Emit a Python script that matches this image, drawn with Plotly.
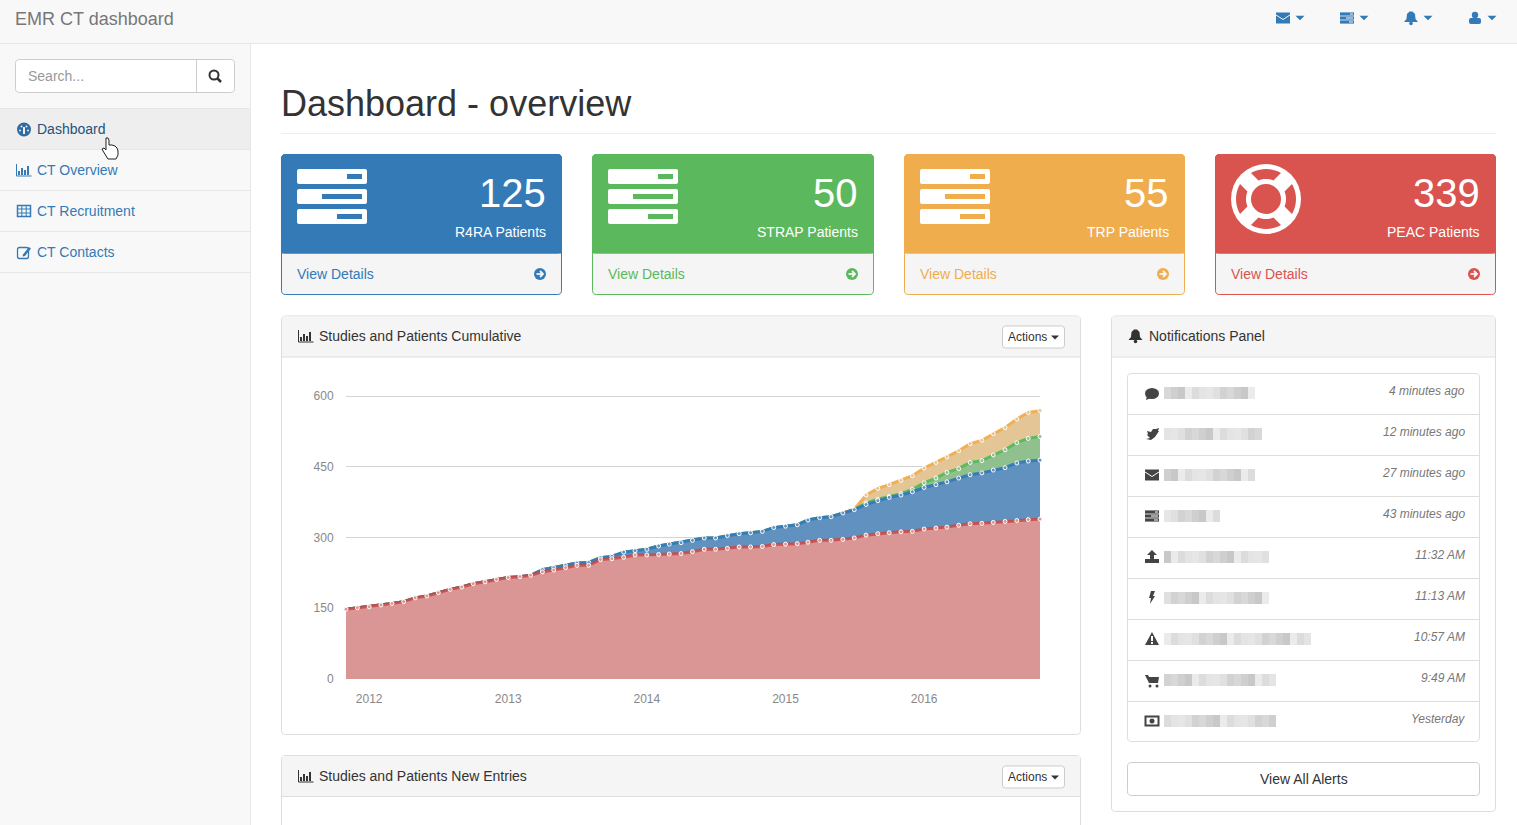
import math
import pandas as pd
import plotly.graph_objects as go

W, H = 1517, 825

months = pd.date_range("2011-11-01", periods=61, freq="MS").strftime("%Y-%m-%d").tolist()
year_ticks = ["2012-01-01", "2013-01-01", "2014-01-01", "2015-01-01", "2016-01-01"]
year_labels = ["2012", "2013", "2014", "2015", "2016"]
y_ticks = [0, 150, 300, 450, 600]

# cumulative series, stacked from the bottom up
peac = [148, 151, 153, 157, 160, 164, 172, 176, 183, 190, 195, 202, 206, 211, 215, 217, 220, 227, 231, 236,
        241, 241, 253, 255, 258, 263, 263, 264, 265, 266, 270, 275, 275, 277, 280, 280, 281, 285, 286, 287,
        290, 294, 294, 296, 299, 305, 308, 310, 312, 313, 318, 320, 322, 326, 329, 330, 332, 334, 336, 338, 339]
r4ra = [148, 151, 153, 157, 160, 164, 172, 176, 183, 190, 195, 202, 206, 211, 215, 217, 220, 232, 236, 241,
        246, 247, 257, 260, 269, 272, 275, 282, 286, 289, 294, 299, 299, 304, 308, 310, 313, 321, 324, 327,
        337, 342, 344, 352, 359, 370, 378, 385, 390, 397, 406, 412, 418, 426, 433, 437, 443, 448, 458, 462, 464]
strap = [148, 151, 153, 157, 160, 164, 172, 176, 183, 190, 195, 202, 206, 211, 215, 217, 220, 232, 236, 241,
         246, 247, 257, 260, 269, 272, 275, 282, 286, 289, 294, 299, 299, 304, 308, 310, 313, 321, 324, 327,
         337, 342, 344, 352, 359, 373, 381, 387, 393, 402, 416, 426, 438, 446, 459, 463, 475, 486, 501, 510, 514]
trp = [148, 151, 153, 157, 160, 164, 172, 176, 183, 190, 195, 202, 206, 211, 215, 217, 220, 232, 236, 241,
       246, 247, 257, 260, 269, 272, 275, 282, 286, 289, 294, 299, 299, 304, 308, 310, 313, 321, 324, 327,
       337, 342, 344, 352, 360, 390, 404, 412, 421, 431, 447, 459, 471, 484, 499, 506, 520, 533, 551, 565, 569]

card_numbers = ["125", "50", "55", "339"]
card_labels = ["R4RA Patients", "STRAP Patients", "TRP Patients", "PEAC Patients"]
nav_items = ["Dashboard", "CT Overview", "CT Recruitment", "CT Contacts"]
alert_times = ["4 minutes ago", "12 minutes ago", "27 minutes ago", "43 minutes ago", "11:32 AM",
               "11:13 AM", "10:57 AM", "9:49 AM", "Yesterday"]

FONT = "Liberation Sans, Arial, sans-serif"
BLUE, GREEN, ORANGE, RED = "#337ab7", "#5cb85c", "#f0ad4e", "#d9534f"
CLEAR = "rgba(0,0,0,0)"

shapes = []
annotations = []


def fx(x):
    return x / W


def fy(y):
    return 1 - y / H


def rect(x0, y0, x1, y1, fill, line=None, r=0, lw=1):
    if r == 0:
        p = [("M", x0, y0), ("L", x1, y0), ("L", x1, y1), ("L", x0, y1)]
        d = " ".join(f"{c} {fx(x):.5f},{fy(y):.5f}" for c, x, y in p) + " Z"
    else:
        def q(cx, cy, x, y):
            return f"Q {fx(cx):.5f},{fy(cy):.5f} {fx(x):.5f},{fy(y):.5f}"
        def l(x, y):
            return f"L {fx(x):.5f},{fy(y):.5f}"
        d = " ".join([f"M {fx(x0 + r):.5f},{fy(y0):.5f}", l(x1 - r, y0), q(x1, y0, x1, y0 + r), l(x1, y1 - r),
                      q(x1, y1, x1 - r, y1), l(x0 + r, y1), q(x0, y1, x0, y1 - r), l(x0, y0 + r),
                      q(x0, y0, x0 + r, y0), "Z"])
    shapes.append(dict(type="path", xref="paper", yref="paper", path=d, fillcolor=fill, layer="below",
                       line=dict(color=line or CLEAR, width=lw if line else 0)))


def poly(points, fill, line=None, lw=1, closed=True):
    d = " ".join(("M" if i == 0 else "L") + f" {fx(x):.5f},{fy(y):.5f}" for i, (x, y) in enumerate(points))
    if closed:
        d += " Z"
    shapes.append(dict(type="path", xref="paper", yref="paper", path=d, fillcolor=fill if closed else CLEAR,
                       layer="below", line=dict(color=line or CLEAR, width=lw if line else 0)))


def circle(cx, cy, r, fill, line=None, lw=1, ry=None):
    ry = ry or r
    shapes.append(dict(type="circle", xref="paper", yref="paper", x0=fx(cx - r), x1=fx(cx + r),
                       y0=fy(cy + ry), y1=fy(cy - ry), fillcolor=fill, layer="below",
                       line=dict(color=line or CLEAR, width=lw if line else 0)))


def hline(x0, x1, y, color):
    shapes.append(dict(type="line", xref="paper", yref="paper", x0=fx(x0), x1=fx(x1), y0=fy(y), y1=fy(y),
                       layer="below", line=dict(color=color, width=1)))


def vline(x, y0, y1, color):
    shapes.append(dict(type="line", xref="paper", yref="paper", x0=fx(x), x1=fx(x), y0=fy(y0), y1=fy(y1),
                       layer="below", line=dict(color=color, width=1)))


def text(x, y, s, size=14, color="#333333", anchor="left", style="normal"):
    # annotation boxes keep about a pixel of padding at the anchored side
    nudge = {"left": -1, "right": 1, "center": 0}[anchor]
    annotations.append(dict(x=fx(x + nudge), y=fy(y), xref="paper", yref="paper", text=s, showarrow=False,
                            xanchor=anchor, yanchor="middle", borderpad=0,
                            font=dict(family=FONT, size=size, color=color, style=style)))


def caret(x, y, color, w=4.5, h=4.5):
    poly([(x - w, y - h / 2), (x + w, y - h / 2), (x, y + h / 2)], color)


def envelope(cx, cy, color, bg):
    rect(cx - 7, cy - 5.5, cx + 7, cy + 5.5, color)
    poly([(cx - 7, cy - 3), (cx, cy + 1.5), (cx + 7, cy - 3)], bg, closed=False, line=bg)


def server(cx, cy, color, bg):
    for dy, sx in ((-4, 3), (0, -1), (4, 2)):
        rect(cx - 7, cy + dy - 1.6, cx + 7, cy + dy + 1.6, color)
        rect(cx + sx, cy + dy - 0.5, cx + 6, cy + dy + 0.5, bg)


def bell(cx, cy, color):
    poly([(cx - 7, cy + 4), (cx - 4.5, cy + 1), (cx - 4, cy - 4), (cx - 1.5, cy - 6.5), (cx + 1.5, cy - 6.5),
          (cx + 4, cy - 4), (cx + 4.5, cy + 1), (cx + 7, cy + 4)], color)
    circle(cx, cy + 5.5, 1.8, color)


def user(cx, cy, color):
    circle(cx, cy - 3, 3.2, color)
    rect(cx - 6, cy, cx + 6, cy + 6, color, r=2)


def barchart(cx, cy, color):
    poly([(cx - 7, cy - 6), (cx - 7, cy + 6), (cx + 8, cy + 6)], None, line=color, closed=False)
    for dx, top in ((-4.5, 1), (-1.5, -2), (1.5, 0), (4.5, -4)):
        rect(cx + dx - 1, cy + top, cx + dx + 1, cy + 5, color)


def big_server(x, y, color):
    for i, slot in enumerate((347, 322, 337)):
        rect(x, y + 20 * i, x + 70, y + 15 + 20 * i, "white", r=2)
        rect(x + slot - 297, y + 5 + 20 * i, x + 65, y + 10 + 20 * i, color)


def life_ring(cx, cy, color):
    circle(cx, cy, 35, "white")
    circle(cx, cy, 15, color)
    for a in (0, 90, 180, 270):
        pts = []
        for d in range(-30, 31, 6):
            t = math.radians(a + d)
            pts.append((cx + 30 * math.cos(t), cy + 30 * math.sin(t)))
        for d in range(22, -23, -4):
            t = math.radians(a + d)
            pts.append((cx + 20 * math.cos(t), cy + 20 * math.sin(t)))
        poly(pts, color)


# navbar and sidebar
rect(0, 0, W, 43.5, "#f8f8f8")
hline(0, W, 43.5, "#e7e7e7")
rect(0, 44, 250, H, "#f8f8f8")
vline(250.5, 44, H, "#e7e7e7")
text(15, 19, "EMR CT dashboard", 18, "#777777")
envelope(1283, 18, BLUE, "#f8f8f8")
caret(1300, 18, BLUE)
server(1347, 18, BLUE, "#f8f8f8")
caret(1364, 18, BLUE)
bell(1411, 18, BLUE)
caret(1428, 18, BLUE)
user(1475, 18, BLUE)
caret(1492, 18, BLUE)

rect(15.5, 59.5, 234.5, 92.5, "white", "#cccccc", r=4)
vline(196.5, 60, 92, "#cccccc")
text(28, 76, "Search...", 14, "#999999")
circle(214, 75, 4.5, "white", "#333333", 2)
poly([(217.5, 78.5), (221, 82)], None, "#333333", 2.5, closed=False)

rect(0, 109, 250, 149, "#eeeeee")
for i, item in enumerate(nav_items):
    hline(0, 250, 108.5 + 41 * i, "#e7e7e7")
    text(37, 129 + 41 * i, item, 14, "#23527c" if i == 0 else BLUE)
hline(0, 250, 272.5, "#e7e7e7")
# gauge
circle(24, 129.5, 7, "#2f6aa3")
for dx, dy in ((-4, 1), (-2.5, -3), (2.5, -3), (4, 1)):
    circle(24 + dx, 129.5 + dy, 1, "#eeeeee")
rect(23, 127, 25, 134, "#eeeeee")
barchart(23.5, 170, BLUE)
# table
rect(17.5, 205.5, 30.5, 216.5, CLEAR, BLUE, lw=1.5)
for vx in (21.8, 26.2):
    vline(vx, 205.5, 216.5, BLUE)
for hy in (209, 213):
    hline(17.5, 30.5, hy, BLUE)
# edit
rect(17.5, 247.5, 28.5, 258.5, CLEAR, BLUE, r=2, lw=1.3)
poly([(23, 254.5), (29, 247), (31, 248.5), (25, 256), (22.5, 256.5)], BLUE)

# hand cursor
poly([(106, 138), (108, 138), (109, 140), (109, 145), (112, 145), (115, 146), (117, 148), (118, 151), (118, 155),
      (116, 159), (108, 159), (103, 151), (102, 149), (104, 148), (106, 150)], "white", "#222222", 1)

# page title
text(281, 103, "Dashboard - overview", 36, "#333333")
hline(281, 1496, 133.5, "#eeeeee")

# stat cards
card_x = [(281.5, 561.5), (592.5, 873.5), (904.5, 1184.5), (1215.5, 1495.5)]
card_colors = [BLUE, GREEN, ORANGE, RED]
for i, (x0, x1) in enumerate(card_x):
    col = card_colors[i]
    rect(x0, 154.5, x1, 294.5, "#f5f5f5", col, r=4)
    rect(x0, 154.5, x1, 253, col, col, r=4)
    rect(x0, 240, x1, 253, col, col)
    text(x1 - 15.5, 193, card_numbers[i], 40, "white", "right")
    text(x1 - 15.5, 232, card_labels[i], 14, "white", "right")
    text(x0 + 15.5, 274, "View Details", 14, col)
    ax = x1 - 21.5
    circle(ax, 274, 6, col)
    poly([(ax - 3.5, 274), (ax + 3, 274)], None, "#f5f5f5", 1.8, closed=False)
    poly([(ax, 271), (ax + 3, 274), (ax, 277)], None, "#f5f5f5", 1.8, closed=False)
    if i < 3:
        big_server(x0 + 15.5, 169, col)
    else:
        life_ring(1266, 199, col)

# chart panels
for y0, y1, title, off in ((316, 734.5, "Studies and Patients Cumulative", 20),
                           (755.5, 860, "Studies and Patients New Entries", 20.5)):
    rect(281.5, y0, 1080.5, y1, "white", "#dddddd", r=4)
    rect(282, y0 + 0.5, 1080, y0 + 41, "#f5f5f5")
    hline(282, 1080, y0 + 41, "#dddddd")
    barchart(305.5, y0 + off, "#333333")
    text(319, y0 + off, title, 14, "#333333")
    rect(1002.5, y0 + off - 10, 1064.5, y0 + off + 12, "white", "#cccccc", r=3)
    text(1008, y0 + off + 1, "Actions", 12, "#333333")
    caret(1055, y0 + off + 1.5, "#333333", 4, 4)

# notifications panel
rect(1111.5, 316, 1495.5, 811.5, "white", "#dddddd", r=4)
rect(1112, 316.5, 1495, 356.5, "#f5f5f5")
hline(1112, 1495, 357, "#dddddd")
bell(1135.5, 336, "#333333")
text(1149, 336, "Notifications Panel", 14, "#333333")
rect(1127.5, 373.5, 1479.5, 741.5, "white", "#dddddd", r=4)

blur_widths = [93, 103, 93, 61, 108, 108, 148, 117, 118]
blur_shades = ["#d8d8d8", "#e4e4e4", "#cfcfcf", "#e6e6e6", "#c8c8c8", "#e0e0e0", "#ebebeb", "#d2d2d2", "#dcdcdc"]
for i, t in enumerate(alert_times):
    yc = 393 + 41 * i
    if i:
        hline(1128, 1479, 373.5 + 41 * i, "#dddddd")
    text(1464.5, yc - 2, t, 12, "#777777", "right", "italic")
    for k in range(blur_widths[i] // 7):
        shade = blur_shades[(k * 2 + i) % len(blur_shades)]
        rect(1164 + 7 * k, yc - 6, 1171 + 7 * k, yc + 6, shade)

ic = "#444444"
# comment
circle(1152, 393.5, 7, ic, ry=5.5)
poly([(1147, 396), (1146, 400), (1151, 398)], ic)
# twitter
poly([(1146, 439), (1150, 438), (1147, 435), (1148, 434), (1147, 431), (1151, 432), (1153, 429), (1156, 429),
      (1159, 428), (1158, 431), (1159, 431), (1157, 434), (1155, 437), (1151, 440)], ic)
envelope(1152, 475, ic, "white")
server(1152, 516, ic, "white")
# upload
rect(1145, 559, 1159, 563, ic)
poly([(1152, 550), (1157, 555), (1154, 555), (1154, 560), (1150, 560), (1150, 555), (1147, 555)], ic)
# bolt
poly([(1151, 591), (1155, 591), (1153, 596), (1155, 596), (1150, 604), (1151, 598), (1149, 598)], ic)
# warning
poly([(1152, 632), (1159, 645), (1145, 645)], ic)
rect(1151, 636, 1153, 641, "white")
rect(1151, 642, 1153, 644, "white")
# cart
poly([(1145, 675), (1148, 675), (1149, 677), (1159, 677), (1158, 683), (1149, 683)], ic)
circle(1150, 686, 1.5, ic)
circle(1157, 686, 1.5, ic)
# money
rect(1145.5, 716.5, 1158.5, 725.5, "white", ic, lw=2)
circle(1152, 721, 2.5, ic)

rect(1127.5, 762.5, 1479.5, 795.5, "white", "#cccccc", r=4)
text(1304, 779, "View All Alerts", 14, "#333333", "center")

fig = go.Figure()
# top of the stack first, so each lower area paints over the one above it
series = [
    ("TRP", trp, "rgba(240,173,78,0.95)", "#e3c596"),
    ("STRAP", strap, "rgba(92,184,92,0.95)", "#90c08e"),
    ("R4RA", r4ra, "rgba(51,122,183,0.95)", "#6191be"),
    ("PEAC", peac, "rgba(205,70,66,0.82)", "#d99695"),
]
for name, values, line_color, fill_color in series:
    fig.add_trace(go.Scatter(
        x=months, y=values, name=name, mode="lines+markers", fill="tozeroy", fillcolor=fill_color,
        line=dict(color=line_color, width=3),
        marker=dict(size=4, color=fill_color, line=dict(color="white", width=1)),
        cliponaxis=False,
        hovertemplate=name + ": %{y}<extra></extra>",
    ))

# the top of the range sits a little above 600, otherwise the 600 grid line is dropped at the edge
y_top = 606
fig.update_layout(
    width=W, height=H,
    margin=dict(l=0, r=0, t=0, b=0, autoexpand=False),
    paper_bgcolor="white", plot_bgcolor="rgba(0,0,0,0)",
    showlegend=False,
    font=dict(family=FONT),
    shapes=shapes, annotations=annotations,
    xaxis=dict(
        domain=[346 / W, 1040 / W], type="date", range=[months[0], months[-1]],
        tickmode="array", tickvals=year_ticks, ticktext=year_labels,
        showgrid=False, zeroline=False, showline=False,
        ticks="outside", ticklen=9, tickcolor="rgba(0,0,0,0)",
        tickfont=dict(size=12, color="#888888", family=FONT),
    ),
    yaxis=dict(
        domain=[1 - 679 / H, 1 - (679 - 283 * y_top / 600) / H], range=[0, y_top],
        tickmode="array", tickvals=y_ticks,
        showgrid=True, gridcolor="#d4d4d4", gridwidth=1, zeroline=False, showline=False,
        ticks="outside", ticklen=9, tickcolor="rgba(0,0,0,0)",
        tickfont=dict(size=12, color="#888888", family=FONT),
    ),
)

fig.write_html("out.html", config={"displayModeBar": False},
               post_script="document.body.style.margin='0';document.body.style.overflow='hidden';")
